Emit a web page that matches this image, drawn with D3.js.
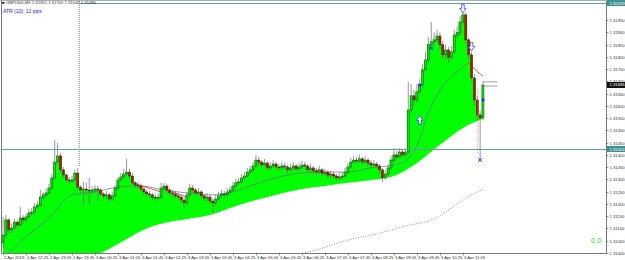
<!DOCTYPE html>
<html><head><meta charset="utf-8">
<script src="https://cdn.jsdelivr.net/npm/d3@7"></script>
<style>html,body{margin:0;padding:0;background:#fff}svg{display:block}</style>
</head><body><svg id="c" width="625" height="260"></svg>
<script>
// ---------------- DATA ----------------
const symbol = "GBPUSD,M5";
const atrText = "ATR (10): 12 pips";
const indicatorValue = "0.0";

const open = [
1.31041,1.31073,1.31135,1.31094,1.31102,1.31126,1.31114,1.31143,1.31135,1.31147,1.31163,1.31167,
1.31188,1.31196,1.31228,1.31237,1.31245,1.31265,1.31306,1.31371,1.31396,1.31339,1.31318,1.31298,
1.31294,1.31298,1.31326,1.31269,1.31257,1.31261,1.31257,1.31253,1.31257,1.31261,1.31257,1.31241,
1.31233,1.31237,1.31220,1.31233,1.31265,1.31298,1.31310,1.31322,1.31330,1.31314,1.31286,1.31277,
1.31273,1.31261,1.31249,1.31241,1.31237,1.31228,1.31224,1.31228,1.31265,1.31273,1.31257,1.31245,
1.31241,1.31233,1.31228,1.31216,1.31204,1.31237,1.31265,1.31257,1.31245,1.31249,1.31233,1.31224,
1.31228,1.31212,1.31204,1.31220,1.31233,1.31241,1.31237,1.31249,1.31257,1.31273,1.31286,1.31290,
1.31306,1.31314,1.31330,1.31339,1.31355,1.31379,1.31371,1.31359,1.31367,1.31347,1.31355,1.31363,
1.31351,1.31347,1.31355,1.31351,1.31339,1.31347,1.31355,1.31343,1.31351,1.31359,1.31355,1.31339,
1.31347,1.31335,1.31330,1.31339,1.31326,1.31330,1.31318,1.31322,1.31314,1.31306,1.31310,1.31314,
1.31330,1.31351,1.31371,1.31379,1.31375,1.31384,1.31371,1.31379,1.31367,1.31359,1.31363,1.31355,
1.31339,1.31306,1.31322,1.31347,1.31379,1.31400,1.31392,1.31412,1.31400,1.31412,1.31583,1.31641,
1.31624,1.31657,1.31685,1.31747,1.31787,1.31849,1.31861,1.31869,1.31885,1.31849,1.31808,1.31828,
1.31796,1.31820,1.31889,1.31898,1.31942,1.31971,1.31869,1.31808,1.31714,1.31624,1.31563,1.31551];

const close = [
1.31073,1.31135,1.31094,1.31102,1.31126,1.31114,1.31143,1.31135,1.31147,1.31163,1.31167,1.31188,
1.31196,1.31228,1.31237,1.31245,1.31265,1.31306,1.31371,1.31396,1.31339,1.31318,1.31298,1.31294,
1.31298,1.31326,1.31269,1.31257,1.31261,1.31257,1.31253,1.31257,1.31261,1.31257,1.31241,1.31233,
1.31237,1.31220,1.31233,1.31265,1.31298,1.31310,1.31322,1.31330,1.31314,1.31286,1.31277,1.31273,
1.31261,1.31249,1.31241,1.31237,1.31228,1.31224,1.31228,1.31265,1.31273,1.31257,1.31245,1.31241,
1.31233,1.31228,1.31216,1.31204,1.31237,1.31265,1.31257,1.31245,1.31249,1.31233,1.31224,1.31228,
1.31212,1.31204,1.31220,1.31233,1.31241,1.31237,1.31249,1.31257,1.31273,1.31286,1.31290,1.31306,
1.31314,1.31330,1.31339,1.31355,1.31379,1.31371,1.31359,1.31367,1.31347,1.31355,1.31363,1.31351,
1.31347,1.31355,1.31351,1.31339,1.31347,1.31355,1.31343,1.31351,1.31359,1.31355,1.31339,1.31347,
1.31335,1.31330,1.31339,1.31326,1.31330,1.31318,1.31322,1.31314,1.31306,1.31310,1.31314,1.31330,
1.31351,1.31371,1.31379,1.31375,1.31384,1.31371,1.31379,1.31367,1.31359,1.31363,1.31355,1.31339,
1.31306,1.31322,1.31347,1.31379,1.31400,1.31392,1.31412,1.31400,1.31412,1.31583,1.31641,1.31624,
1.31657,1.31685,1.31747,1.31787,1.31849,1.31861,1.31869,1.31885,1.31849,1.31808,1.31828,1.31796,
1.31820,1.31889,1.31898,1.31942,1.31971,1.31869,1.31808,1.31714,1.31624,1.31563,1.31551,1.31685];

const high = [
1.31147,1.31155,1.31143,1.31120,1.31140,1.31135,1.31188,1.31155,1.31160,1.31180,1.31184,1.31204,
1.31212,1.31257,1.31250,1.31261,1.31282,1.31322,1.31461,1.31449,1.31408,1.31351,1.31326,1.31310,
1.31314,1.31339,1.31347,1.31277,1.31290,1.31286,1.31306,1.31273,1.31277,1.31273,1.31265,1.31249,
1.31253,1.31245,1.31249,1.31277,1.31310,1.31326,1.31343,1.31384,1.31343,1.31326,1.31294,1.31290,
1.31282,1.31269,1.31257,1.31253,1.31245,1.31241,1.31241,1.31286,1.31286,1.31282,1.31265,1.31257,
1.31253,1.31245,1.31237,1.31228,1.31249,1.31282,1.31277,1.31265,1.31265,1.31257,1.31241,1.31245,
1.31237,1.31224,1.31237,1.31249,1.31257,1.31253,1.31265,1.31273,1.31290,1.31302,1.31306,1.31322,
1.31330,1.31347,1.31355,1.31371,1.31400,1.31392,1.31379,1.31384,1.31375,1.31371,1.31379,1.31371,
1.31363,1.31371,1.31367,1.31359,1.31363,1.31371,1.31363,1.31367,1.31375,1.31371,1.31363,1.31363,
1.31355,1.31347,1.31355,1.31347,1.31343,1.31339,1.31335,1.31330,1.31322,1.31326,1.31330,1.31347,
1.31367,1.31388,1.31396,1.31392,1.31400,1.31392,1.31396,1.31388,1.31379,1.31379,1.31371,1.31363,
1.31347,1.31339,1.31363,1.31396,1.31428,1.31416,1.31428,1.31420,1.31428,1.31698,1.31690,1.31665,
1.31690,1.31710,1.31770,1.31820,1.31880,1.31942,1.31900,1.31910,1.31900,1.31865,1.31850,1.31840,
1.31845,1.31910,1.31925,1.31965,1.31983,1.31980,1.31880,1.31820,1.31730,1.31640,1.31580,1.31700];

const low = [
1.31020,1.31060,1.31082,1.31080,1.31094,1.31100,1.31106,1.31122,1.31126,1.31139,1.31151,1.31155,
1.31180,1.31188,1.31216,1.31224,1.31237,1.31257,1.31298,1.31359,1.31326,1.31306,1.31286,1.31282,
1.31286,1.31290,1.31257,1.31241,1.31196,1.31237,1.31200,1.31241,1.31245,1.31212,1.31233,1.31220,
1.31220,1.31208,1.31212,1.31228,1.31257,1.31290,1.31302,1.31314,1.31302,1.31277,1.31265,1.31261,
1.31249,1.31237,1.31228,1.31224,1.31216,1.31212,1.31216,1.31220,1.31257,1.31245,1.31233,1.31228,
1.31220,1.31216,1.31204,1.31184,1.31196,1.31228,1.31245,1.31233,1.31237,1.31220,1.31212,1.31212,
1.31200,1.31163,1.31192,1.31212,1.31224,1.31224,1.31228,1.31241,1.31249,1.31265,1.31277,1.31282,
1.31298,1.31306,1.31322,1.31330,1.31347,1.31359,1.31347,1.31351,1.31335,1.31339,1.31347,1.31339,
1.31335,1.31339,1.31339,1.31326,1.31330,1.31339,1.31330,1.31335,1.31343,1.31343,1.31326,1.31330,
1.31322,1.31318,1.31322,1.31314,1.31314,1.31306,1.31306,1.31302,1.31290,1.31294,1.31298,1.31306,
1.31322,1.31343,1.31363,1.31363,1.31367,1.31359,1.31363,1.31355,1.31347,1.31351,1.31343,1.31326,
1.31290,1.31298,1.31314,1.31339,1.31371,1.31379,1.31384,1.31388,1.31392,1.31404,1.31571,1.31600,
1.31612,1.31645,1.31673,1.31735,1.31775,1.31830,1.31845,1.31857,1.31830,1.31790,1.31790,1.31775,
1.31785,1.31810,1.31875,1.31885,1.31930,1.31855,1.31790,1.31700,1.31600,1.31540,1.31379,1.31540];

// time labels, one every 8 bars
const timeLabels = ["2 Apr 2019","2 Apr 22:25","2 Apr 23:05","2 Apr 23:45","3 Apr 00:25","3 Apr 01:05",
  "3 Apr 01:45","3 Apr 02:25","3 Apr 03:05","3 Apr 03:45","3 Apr 04:25","3 Apr 05:05","3 Apr 05:45",
  "3 Apr 06:25","3 Apr 07:05","3 Apr 07:45","3 Apr 08:25","3 Apr 09:05","3 Apr 09:45","3 Apr 10:25","3 Apr 11:05"];
const barsPerLabel = 8;

// price axis tick labels
const priceTicks = [1.31000,1.31050,1.31100,1.31150,1.31200,1.31250,1.31300,1.31350,1.31400,1.31450,
  1.31500,1.31550,1.31600,1.31650,1.31700,1.31750,1.31800,1.31850,1.31900,1.31950];

// lower edge of the green band (slow average)
const bandBars = [0,8,16,24,32,40,48,56,64,72,80,88,96,104,112,120,128,136,144,152,160,167];
const bandLow  = [1.30905,1.30931,1.30955,1.30980,1.30992,1.31037,1.31090,1.31122,1.31139,1.31155,1.31188,
  1.31216,1.31241,1.31261,1.31273,1.31286,1.31298,1.31314,1.31367,1.31441,1.31510,1.31547];

// thin grey moving average
const maBars   = [0,8,16,24,32,40,48,56,64,72,80,88,96,104,112,120,128,136,140,144,148,152,156,160,162];
const maValues = [1.30980,1.31065,1.31143,1.31237,1.31249,1.31269,1.31273,1.31257,1.31245,1.31237,1.31249,
  1.31282,1.31310,1.31326,1.31330,1.31330,1.31347,1.31359,1.31375,1.31437,1.31571,1.31665,1.31718,1.31759,1.31775];
// red continuation of the average
const maTailBars   = [162,164,166,167];
const maTailValues = [1.31775,1.31751,1.31730,1.31722];

// slow dotted average
const slowBars   = [100,110,120,130,140,150,160,167];
const slowValues = [1.30988,1.31016,1.31053,1.31078,1.31110,1.31139,1.31216,1.31261];

// red swing segments
const swingStartBar   = [45,57,109];
const swingEndBar     = [55,64,118];
const swingStartPrice = [1.31286,1.31257,1.31339];
const swingEndPrice   = [1.31249,1.31228,1.31306];

// blue signal markers
const markBars   = [160,163,145,149,145,167,166];
const markPrices = [1.31995,1.31840,1.31543,1.31836,1.31685,1.31624,1.31379];
const markTypes  = ["down","down","up","x","dot","dot","x"];

// horizontal lines (teal) and vertical marker line
const hLinePrices = [1.32019,1.31424];
const hLineStartBar = [26.5,-2];
const vLineBar = 26.5, vLineEndPrice = 1.31351;
const pinkLineBar = 165.2, pinkFrom = 1.31673, pinkTo = 1.31404;
const stubPrices = [1.31698,1.31681], stubFromBar = 167, stubToBar = 172;

// ---------------- DRAW ----------------
const svg = d3.select("#c");
const plot = {left:1, right:606.5, top:1, bottom:253};
const nBars = close.length;
const x = d3.scaleLinear().domain([0, nBars-1]).range([3, 483]);
const y = d3.scaleLinear().domain([priceTicks[0], priceTicks[priceTicks.length-1]]).range([253, 20]);

const defs = svg.append("defs");
defs.append("clipPath").attr("id","plotClip").append("rect")
  .attr("x",plot.left).attr("y",plot.top).attr("width",plot.right-plot.left).attr("height",plot.bottom-plot.top);
const band = bandBars.map((b,i)=>({b, v:bandLow[i]}));
defs.append("clipPath").attr("id","bandClip").append("path")
  .attr("d", d3.area().x(d=>x(d.b)).y0(-20).y1(d=>y(d.v)).curve(d3.curveMonotoneX)(band));

const g = svg.append("g").attr("clip-path","url(#plotClip)");

// green fill between candles and lower band
const bars = close.map((c,i)=>({i, o:open[i], h:high[i], l:low[i], c}));
g.append("g").attr("clip-path","url(#bandClip)").append("path")
  .attr("d", d3.area().x(d=>x(d.i)).y0(d=>y(Math.max(d.o,d.c))).y1(plot.bottom+5).curve(d3.curveStep)(bars))
  .attr("fill","#00ff00");

// slow dotted average
g.append("path")
  .attr("d", d3.line().x((d,i)=>x(slowBars[i])).y(d=>y(d)).curve(d3.curveMonotoneX)(slowValues))
  .attr("fill","none").attr("stroke","#777").attr("stroke-width",0.8).attr("stroke-dasharray","1,1.5");

// grey average
g.append("path")
  .attr("d", d3.line().x((d,i)=>x(maBars[i])).y(d=>y(d)).curve(d3.curveMonotoneX)(maValues))
  .attr("fill","none").attr("stroke","#5f7480").attr("stroke-width",0.7);
g.append("path")
  .attr("d", d3.line().x((d,i)=>x(maTailBars[i])).y(d=>y(d)).curve(d3.curveMonotoneX)(maTailValues))
  .attr("fill","none").attr("stroke","#ff2020").attr("stroke-width",0.8);

// swing segments
g.selectAll("line.swing").data(swingStartBar).join("line").attr("class","swing")
  .attr("x1",(d)=>x(d)).attr("x2",(d,i)=>x(swingEndBar[i]))
  .attr("y1",(d,i)=>y(swingStartPrice[i])).attr("y2",(d,i)=>y(swingEndPrice[i]))
  .attr("stroke","#ff2030").attr("stroke-width",0.8);

// candles
const cg = g.append("g");
cg.selectAll("line.wick").data(bars).join("line").attr("class","wick")
  .attr("x1",d=>x(d.i)).attr("x2",d=>x(d.i)).attr("y1",d=>y(d.h)).attr("y2",d=>y(d.l))
  .attr("stroke","#6a6a6a").attr("stroke-width",0.7);
cg.selectAll("rect.body").data(bars).join("rect").attr("class","body")
  .attr("x",d=>x(d.i)-1).attr("width",2)
  .attr("y",d=>y(Math.max(d.o,d.c)))
  .attr("height",d=>Math.max(0.6, y(Math.min(d.o,d.c))-y(Math.max(d.o,d.c))))
  .attr("fill",d=>d.c>=d.o?"#00ee00":"#e00000")
  .attr("stroke","#2a2a2a").attr("stroke-width",0.45);

// vertical dotted line
g.append("line").attr("x1",x(vLineBar)).attr("x2",x(vLineBar)).attr("y1",plot.top).attr("y2",y(vLineEndPrice))
  .attr("stroke","#333").attr("stroke-width",0.7).attr("stroke-dasharray","1,1");
// pink dotted vertical
g.append("line").attr("x1",x(pinkLineBar)).attr("x2",x(pinkLineBar)).attr("y1",y(pinkFrom)).attr("y2",y(pinkTo))
  .attr("stroke","#ff7070").attr("stroke-width",0.7).attr("stroke-dasharray","1,1");

// teal horizontal lines
g.selectAll("line.hl").data(hLinePrices).join("line").attr("class","hl")
  .attr("x1",(d,i)=>x(hLineStartBar[i])).attr("x2",plot.right)
  .attr("y1",d=>Math.round(y(d))+0.5).attr("y2",d=>Math.round(y(d))+0.5)
  .attr("stroke","#5f9ea0").attr("stroke-width",1);

// price stubs
g.selectAll("line.stub").data(stubPrices).join("line").attr("class","stub")
  .attr("x1",x(stubFromBar)).attr("x2",x(stubToBar)).attr("y1",d=>y(d)).attr("y2",d=>y(d))
  .attr("stroke","#777").attr("stroke-width",0.7);

// markers
const mg = g.append("g").attr("fill","#fff").attr("stroke","#2828ff").attr("stroke-width",0.7);
markTypes.forEach((t,i)=>{
  const cx = x(markBars[i]), cy = y(markPrices[i]);
  if(t==="down"){
    mg.append("path").attr("transform",`translate(${cx},${cy})`)
      .attr("d","M-1.3,-4.5H1.3V-0.5H3.2L0,4L-3.2,-0.5H-1.3Z");
  } else if(t==="up"){
    mg.append("path").attr("transform",`translate(${cx},${cy})`)
      .attr("d","M-1.3,4.5H1.3V0.5H3.2L0,-4L-3.2,0.5H-1.3Z");
  } else if(t==="x"){
    mg.append("path").attr("transform",`translate(${cx},${cy})`)
      .attr("d","M-1.8,-1.8L1.8,1.8M-1.8,1.8L1.8,-1.8").attr("stroke-width",1);
  } else {
    mg.append("rect").attr("x",cx-1).attr("y",cy-1).attr("width",2).attr("height",2).attr("fill","#2828ff");
  }
});

// frame
svg.append("path")
  .attr("d",`M${plot.left+0.5},${plot.top}V${plot.bottom+0.5}H${plot.right}V${plot.top}`)
  .attr("fill","none").attr("stroke","#555").attr("stroke-width",0.8);
svg.append("line").attr("x1",0).attr("x2",625).attr("y1",0.5).attr("y2",0.5).attr("stroke","#999").attr("stroke-width",0.8);

// right axis
const ax = svg.append("g").attr("font-family","'Liberation Sans',Arial,sans-serif").attr("font-size","4.2px").attr("fill","#333");
priceTicks.forEach(p=>{
  const py = Math.round(y(p))+0.5;
  ax.append("line").attr("x1",plot.right).attr("x2",plot.right+2).attr("y1",py).attr("y2",py).attr("stroke","#555").attr("stroke-width",0.6);
  ax.append("text").attr("x",plot.right+3).attr("y",py+1.5).text(p.toFixed(5));
});
function priceBox(p, fill){
  const py = y(p);
  ax.append("rect").attr("x",plot.right+0.5).attr("y",py-3).attr("width",625-plot.right).attr("height",6).attr("fill",fill);
  ax.append("text").attr("x",plot.right+3).attr("y",py+1.5).attr("fill","#fff").text(p.toFixed(5));
}
priceBox(hLinePrices[0], "#3e8f8f");
priceBox(hLinePrices[1], "#3e8f8f");
priceBox(close[nBars-1], "#111");

// bottom axis
timeLabels.forEach((t,k)=>{
  const bx = Math.round(x(k*barsPerLabel))+0.5;
  ax.append("line").attr("x1",bx).attr("x2",bx).attr("y1",plot.bottom).attr("y2",plot.bottom+2.5).attr("stroke","#555").attr("stroke-width",0.6);
  ax.append("text").attr("x",bx+0.5).attr("y",258.5).text(t);
});

// header + labels
svg.append("path").attr("d","M1.5,2L5,2L3.25,4.5Z").attr("fill","#222");
svg.append("text").attr("x",6).attr("y",4.3).attr("font-family","'Liberation Sans',Arial,sans-serif")
  .attr("font-size","4.2px").attr("fill","#333")
  .text(`${symbol}  ${open[nBars-1].toFixed(5)} ${high[nBars-1].toFixed(5)} ${low[nBars-1].toFixed(5)} ${close[nBars-1].toFixed(5)}`);
svg.append("text").attr("x",3).attr("y",12.5).attr("font-family","'Liberation Sans',Arial,sans-serif")
  .attr("font-size","5px").attr("fill","#2424e0").text(atrText);
svg.append("text").attr("x",591).attr("y",242.5).attr("font-family","'Liberation Sans',Arial,sans-serif")
  .attr("font-size","7.5px").attr("fill","#3ccf3c").text(indicatorValue);
</script></body></html>
